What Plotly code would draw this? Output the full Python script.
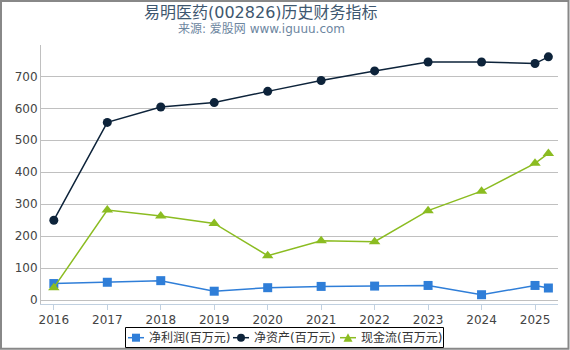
import plotly.graph_objects as go

years = [2016, 2017, 2018, 2019, 2020, 2021, 2022, 2023, 2024, 2025, 2025.25]
tick_vals = [2016, 2017, 2018, 2019, 2020, 2021, 2022, 2023, 2024, 2025]
tick_text = ["2016", "2017", "2018", "2019", "2020", "2021", "2022", "2023", "2024", "2025"]

net_profit = [52, 56, 61, 28, 39, 43, 44, 46, 17, 46, 38]
net_assets = [250, 556, 604, 618, 653, 687, 717, 745, 745, 740, 761]
cash_flow = [39, 282, 263, 240, 139, 186, 183, 280, 341, 428, 459]

names = ["净利润(百万元)", "净资产(百万元)", "现金流(百万元)"]
colors = ["#2f7ed8", "#0d233a", "#8bbc21"]
symbols = ["square", "circle", "triangle-up"]
sizes = [9, 9, 10]
series = [net_profit, net_assets, cash_flow]

title_text = "易明医药(002826)历史财务指标"
subtitle_text = "来源: 爱股网 www.iguuu.com"

FONT = "DejaVu Sans, Noto Sans CJK SC, sans-serif"

fig = go.Figure()
for name, col, sym, sz, vals in zip(names, colors, symbols, sizes, series):
    fig.add_trace(go.Scatter(
        x=years, y=vals, name=name, mode="lines+markers",
        line=dict(color=col, width=1.5),
        marker=dict(symbol=sym, size=sz, color=col, line=dict(width=0)),
        showlegend=False,
    ))

L, R, T, B = 41, 12, 45, 46
W, H = 570, 350
pw = W - L - R
ph = H - T - B


def px_x(p):
    return (p - L) / pw


def px_y(p):
    return (H - B - p) / ph


shapes = []
annotations = []

# outer frame
shapes.append(dict(
    type="rect", xref="paper", yref="paper",
    x0=px_x(1), x1=px_x(568.5), y0=px_y(1), y1=px_y(348.8),
    line=dict(color="#888", width=2), fillcolor="rgba(0,0,0,0)", layer="above",
))

# title & subtitle
annotations.append(dict(
    text=title_text, xref="paper", yref="paper",
    x=px_x(261), y=px_y(12), xanchor="center", yanchor="middle",
    showarrow=False, font=dict(family=FONT, size=16, color="#3E576F"),
))
annotations.append(dict(
    text=subtitle_text, xref="paper", yref="paper",
    x=px_x(261), y=px_y(29), xanchor="center", yanchor="middle",
    showarrow=False, font=dict(family=FONT, size=12, color="#6D869F"),
))

# custom legend
shapes.append(dict(
    type="rect", xref="paper", yref="paper",
    x0=px_x(125.5), x1=px_x(443.5), y0=px_y(347.5), y1=px_y(327.5),
    line=dict(color="#000", width=1), fillcolor="white", layer="above",
))
leg_y = 337.7
starts = [128, 233, 340]
for name, col, sym, x0 in zip(names, colors, symbols, starts):
    shapes.append(dict(
        type="line", xref="paper", yref="paper",
        x0=px_x(x0), x1=px_x(x0 + 16), y0=px_y(leg_y), y1=px_y(leg_y),
        line=dict(color=col, width=1.5), layer="above",
    ))
    cx = x0 + 8
    if sym == "square":
        shapes.append(dict(
            type="rect", xref="paper", yref="paper",
            x0=px_x(cx - 4), x1=px_x(cx + 4), y0=px_y(leg_y + 4), y1=px_y(leg_y - 4),
            line=dict(width=0), fillcolor=col, layer="above",
        ))
    elif sym == "circle":
        shapes.append(dict(
            type="circle", xref="paper", yref="paper",
            x0=px_x(cx - 4), x1=px_x(cx + 4), y0=px_y(leg_y + 4), y1=px_y(leg_y - 4),
            line=dict(width=0), fillcolor=col, layer="above",
        ))
    else:
        path = "M {:.5f},{:.5f} L {:.5f},{:.5f} L {:.5f},{:.5f} Z".format(
            px_x(cx - 4.5), px_y(leg_y + 4),
            px_x(cx + 4.5), px_y(leg_y + 4),
            px_x(cx), px_y(leg_y - 4.5),
        )
        shapes.append(dict(
            type="path", xref="paper", yref="paper", path=path,
            line=dict(width=0), fillcolor=col, layer="above",
        ))
    annotations.append(dict(
        text=name, xref="paper", yref="paper",
        x=px_x(x0 + 19), y=px_y(leg_y), xanchor="left", yanchor="middle",
        showarrow=False, font=dict(family=FONT, size=12, color="#333"),
    ))

fig.update_layout(
    width=W, height=H,
    margin=dict(l=L, r=R, t=T, b=B, autoexpand=False),
    paper_bgcolor="white", plot_bgcolor="white",
    font=dict(family=FONT, size=12, color="#444"),
    showlegend=False,
    xaxis=dict(
        range=[2015.76, 2025.43],
        tickvals=tick_vals, ticktext=tick_text,
        showgrid=False, zeroline=False,
        showline=True, linecolor="#C0D0E0", linewidth=1,
        ticks="outside", ticklen=5, tickcolor="#C0D0E0",
        tickfont=dict(size=12, color="#444"),
    ),
    yaxis=dict(
        range=[-12, 798],
        tickvals=[0, 100, 200, 300, 400, 500, 600, 700],
        showgrid=True, gridcolor="#C0C0C0", gridwidth=1,
        zeroline=False,
        showline=True, linecolor="#C0C0C0", linewidth=1,
        tickfont=dict(size=12, color="#444"),
    ),
    shapes=shapes,
    annotations=annotations,
)

fig.write_html("out.html")
